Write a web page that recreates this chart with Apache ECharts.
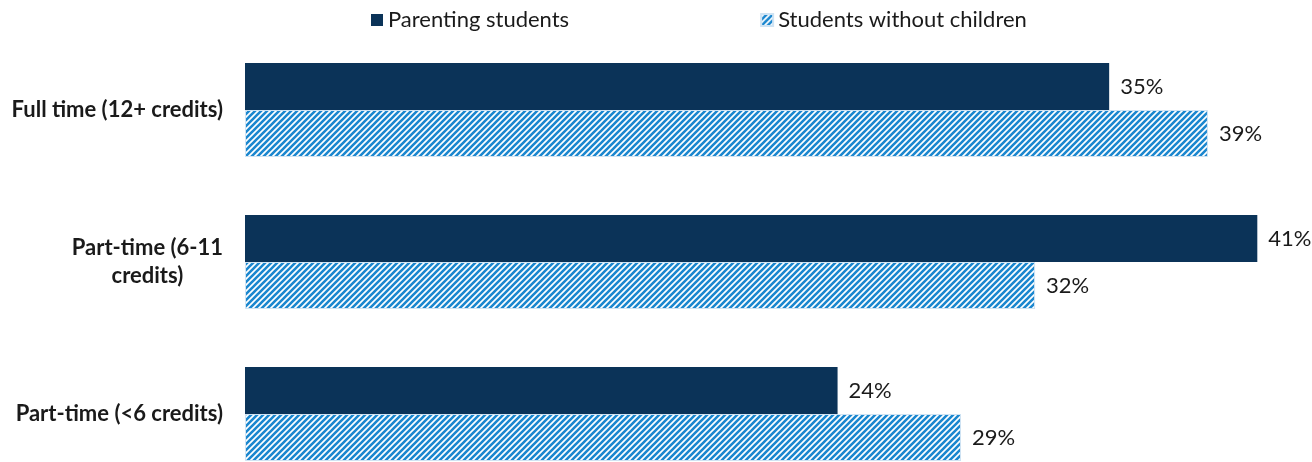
<!DOCTYPE html>
<html>
<head>
<meta charset="utf-8">
<script src="https://cdn.jsdelivr.net/npm/echarts@6/dist/echarts.min.js"></script>
<style>
  html, body { margin: 0; padding: 0; background: #ffffff; }
  #chart { width: 1312px; height: 462px; }
</style>
</head>
<body>
<div id="chart"></div>
<script>
// Enrollment intensity categories (top to bottom)
const categories = ['Full time (12+ credits)', 'Part-time (6-11\ncredits)', 'Part-time (<6 credits)'];
const seriesNames = ['Parenting students', 'Students without children'];
const parentingValues = [35, 41, 24];
const noChildrenValues = [39, 32, 29];

const DARK = '#0b3358';
const BLUE = '#1b87cf';
const TEXT = '#1a1a1a';

// Diagonal stripe tile for the second series
function stripeTile() {
  const s = 6;
  const c = document.createElement('canvas');
  c.width = s; c.height = s;
  const g = c.getContext('2d');
  g.fillStyle = '#ffffff';
  g.fillRect(0, 0, s, s);
  g.strokeStyle = BLUE;
  g.lineWidth = 2.6;
  g.lineCap = 'square';
  g.beginPath();
  g.moveTo(0, s); g.lineTo(s, 0);
  g.moveTo(-s / 2, s / 2); g.lineTo(s / 2, -s / 2);
  g.moveTo(s / 2, s * 1.5); g.lineTo(s * 1.5, s / 2);
  g.stroke();
  return c;
}
const stripes = { image: stripeTile(), repeat: 'repeat' };

const labelStyle = {
  show: true,
  position: 'right',
  distance: 11,
  fontFamily: 'Lato',
  fontSize: 22,
  color: TEXT,
  formatter: p => p.value + '%'
};

const chart = echarts.init(document.getElementById('chart'), null, { renderer: 'canvas' });
chart.setOption({
  animation: false,
  backgroundColor: '#ffffff',
  legend: {
    left: 366,
    top: 4,
    itemWidth: 12,
    itemHeight: 12,
    itemGap: 191,
    icon: 'rect',
    textStyle: { fontFamily: 'Lato', fontSize: 22, color: TEXT },
    data: seriesNames
  },
  grid: { left: 245, top: 34, right: 30, bottom: -28, outerBoundsMode: 'none', containLabel: false },
  xAxis: {
    type: 'value',
    min: 0,
    max: 42,
    show: false
  },
  yAxis: {
    type: 'category',
    inverse: true,
    data: categories,
    axisLine: { show: false },
    axisTick: { show: false },
    axisLabel: {
      margin: 22,
      fontFamily: 'Lato',
      fontWeight: 'bold',
      fontSize: 22,
      color: TEXT,
      lineHeight: 28,
      formatter: v => v.split('\n').map(t => '{c|' + t + '}').join('\n'),
      rich: {
        c: { align: 'center', fontFamily: 'Lato', fontWeight: 'bold', fontSize: 22, color: TEXT, lineHeight: 28 }
      }
    }
  },
  series: [
    {
      name: seriesNames[0],
      type: 'bar',
      data: parentingValues,
      barWidth: 47,
      barGap: '0%',
      itemStyle: { color: DARK },
      label: labelStyle
    },
    {
      name: seriesNames[1],
      type: 'bar',
      data: noChildrenValues,
      barWidth: 47,
      barGap: '0%',
      itemStyle: { color: stripes, borderColor: '#cfe3f3', borderWidth: 1 },
      label: labelStyle
    }
  ]
});
</script>
</body>
</html>
